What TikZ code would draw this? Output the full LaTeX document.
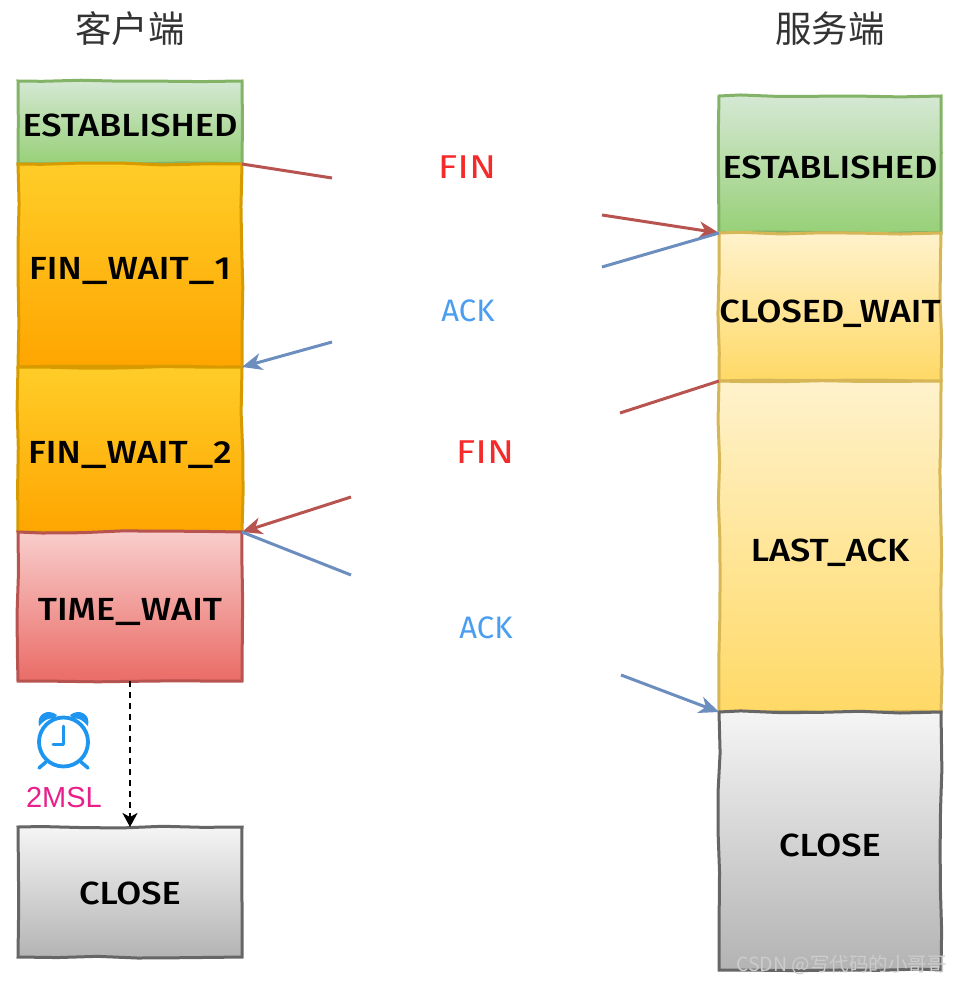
\documentclass[tikz,border=0pt]{standalone}
\usepackage{fontspec}
\usepackage{graphicx}
\setmainfont{Liberation Sans}
\newfontfamily\statefont{Fira Sans}[UprightFont=* Medium,FakeStretch=1.13]
\newfontfamily\finfont{Fira Sans}[FakeStretch=1.2]
\newfontfamily\ackfont{Fira Sans}
\newfontfamily\cjkfont{Noto Sans CJK SC}
\usetikzlibrary{arrows.meta,decorations.pathmorphing,shadings}
\definecolor{redline}{HTML}{B85450}
\definecolor{blueline}{HTML}{6C8EBF}
\definecolor{clockblue}{HTML}{1E96F0}
\definecolor{finred}{HTML}{F52A2A}
\definecolor{ackblue}{HTML}{4A9DF0}
\definecolor{mslpink}{HTML}{E8208C}
\definecolor{Xgreen}{HTML}{82B366}\definecolor{Xgreentop}{HTML}{D5E8D4}\definecolor{Xgreenbot}{HTML}{97D077}
\definecolor{Xorange}{HTML}{D79B00}\definecolor{Xorangetop}{HTML}{FFCD28}\definecolor{Xorangebot}{HTML}{FFA500}
\definecolor{Xyellow}{HTML}{D6B656}\definecolor{Xyellowtop}{HTML}{FFF2CC}\definecolor{Xyellowbot}{HTML}{FFD966}
\definecolor{Xred}{HTML}{B85450}\definecolor{Xredtop}{HTML}{F8CECC}\definecolor{Xredbot}{HTML}{EA6B66}
\definecolor{Xgray}{HTML}{666666}\definecolor{Xgraytop}{HTML}{F5F5F5}\definecolor{Xgraybot}{HTML}{B3B3B3}
\newcommand{\wideus}{\scalebox{1.37}[1]{\_}}
\tikzset{
  x=1pt,y=-1pt,
  statebox/.style={rectangle,inner sep=0pt,outer sep=0pt,line width=3pt,
    minimum width=#1,font=\statefont\fontsize{32}{32}\selectfont,text=black,
    text height=30pt,text depth=2pt,
    decorate,decoration={random steps,segment length=40pt,amplitude=1.1pt},
    shading angle=0},
  est/.style={draw=Xgreen,top color=Xgreentop,bottom color=Xgreenbot},
  orangebox/.style={draw=Xorange,top color=Xorangetop,bottom color=Xorangebot},
  yellowbox/.style={draw=Xyellow,top color=Xyellowtop,bottom color=Xyellowbot},
  redbox/.style={draw=Xred,top color=Xredtop,bottom color=Xredbot},
  graybox/.style={draw=Xgray,top color=Xgraytop,bottom color=Xgraybot},
  finlabel/.style={text=finred,font=\finfont\fontsize{33}{33}\selectfont},
  acklabel/.style={text=ackblue,font=\ackfont\fontsize{31}{31}\selectfont},
  sideTitle/.style={text=black!80,font=\cjkfont\fontsize{36.5}{36.5}\selectfont},
  redarrow/.style={draw=redline,line width=3pt},
  bluearrow/.style={draw=blueline,line width=3pt},
  tip/.style={-{Stealth[length=20pt,width=17pt,inset=6pt]}}
}
\begin{document}
\begin{tikzpicture}
\pgfmathsetseed{7}
\useasboundingbox (0,0) rectangle (963,984);
\node[sideTitle] (clienttitle) at (130,29) {客户端};
\node[sideTitle] (servertitle) at (830,29) {服务端};
% client column
\node[statebox=224pt,est,minimum height=83pt] (cest) at (130,122.5) {ESTABLISHED};
\node[statebox=224pt,orangebox,minimum height=203pt] (cfw1) at (130,265.5) {FIN\wideus WAIT\wideus 1};
\node[statebox=224pt,orangebox,minimum height=165pt] (cfw2) at (130,449.5) {FIN\wideus WAIT\wideus 2};
\node[statebox=224pt,redbox,minimum height=149pt] (ctw) at (130,606.5) {TIME\wideus WAIT};
\node[statebox=224pt,graybox,minimum height=130pt,text height=26pt] (cclose) at (130,892) {CLOSE};
% server column
\node[statebox=222pt,est,minimum height=137pt] (sest) at (830,164.5) {ESTABLISHED};
\node[statebox=222pt,yellowbox,minimum height=148pt,text height=32pt] (scw) at (830,307) {CLOSED\_WAIT};
\node[statebox=222pt,yellowbox,minimum height=331pt,text height=31pt] (sla) at (830,546.5) {LAST\_ACK};
\node[statebox=222pt,graybox,minimum height=258pt,text height=32pt] (sclose) at (830,841) {CLOSE};
% message labels
\node[finlabel] (fin1) at (467,167) {FIN};
\node[acklabel] (ack1) at (468,311) {ACK};
\node[finlabel] (fin2) at (485,452) {FIN};
\node[acklabel] (ack2) at (486,628) {ACK};
% free ends of the interrupted connectors
\coordinate (f1a) at (332,178);
\coordinate (f1b) at (602,215);
\coordinate (a1a) at (602,267);
\coordinate (a1b) at (332,342);
\coordinate (f2a) at (620,413);
\coordinate (f2b) at (351,497);
\coordinate (a2a) at (351,575);
\coordinate (a2b) at (621,675);
\draw[redarrow] (cest.south east) -- (f1a);
\draw[redarrow,tip] (f1b) -- (sest.south west);
\draw[bluearrow] (sest.south west) -- (a1a);
\draw[bluearrow,tip] (a1b) -- (cfw1.south east);
\draw[redarrow] (scw.south west) -- (f2a);
\draw[redarrow,tip] (f2b) -- (cfw2.south east);
\draw[bluearrow] (cfw2.south east) -- (a2a);
\draw[bluearrow,tip] (a2b) -- (sla.south west);
\draw[black,line width=2pt,dash pattern=on 6pt off 5pt,-{Stealth[length=14pt,width=15pt,inset=4pt]}] (ctw.south) -- (cclose.north);
% alarm clock
\draw[clockblue,line width=3.8pt] (63.5,742) circle (24.5);
\draw[clockblue,line width=3pt,line cap=round,line join=round] (63,726) -- (63,744) -- (53,744);
\draw[clockblue,line width=3.5pt,line cap=round] (46,762) -- (39,768) (81,762) -- (88,768);
\fill[clockblue] (39,726) .. controls (36,714) and (48,708) .. (57,715) -- (54,719) .. controls (48,717) and (44,721) .. (39,726) -- cycle;
\fill[clockblue] (88,726) .. controls (91,714) and (79,708) .. (70,715) -- (73,719) .. controls (79,717) and (83,721) .. (88,726) -- cycle;
\node[text=mslpink,font=\fontsize{29}{29}\selectfont] (msl) at (64,798) {2MSL};
% watermark
\node[text=white!80!black,font=\cjkfont\fontsize{19.5}{20}\selectfont] (mark) at (841.5,965) {CSDN @写代码的小哥哥};
\end{tikzpicture}
\end{document}
